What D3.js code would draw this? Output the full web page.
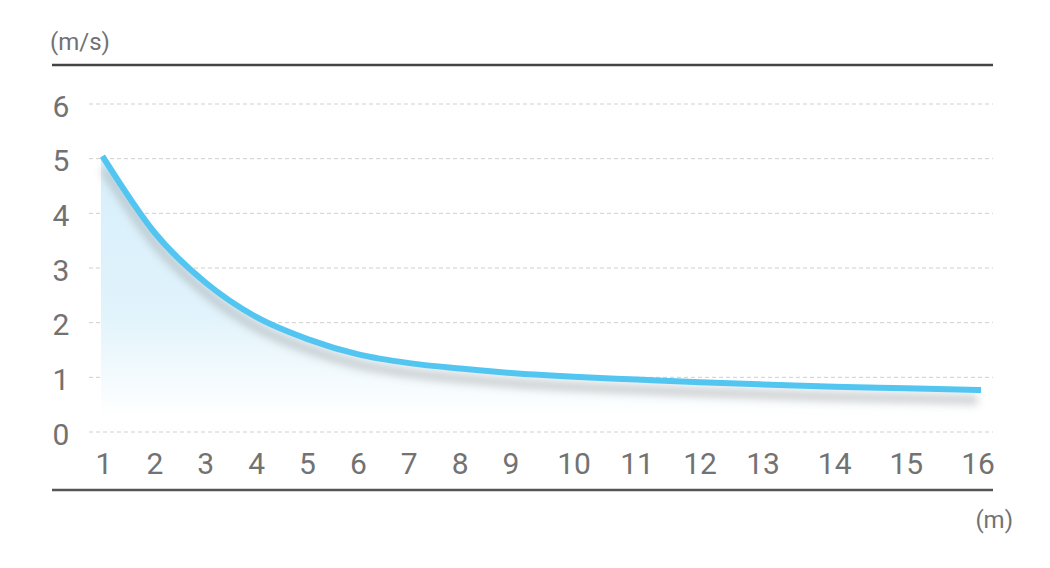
<!DOCTYPE html>
<html lang="en">
  <head>
    <meta charset="utf-8">
    <title>Speed vs distance</title>
    <script src="https://d3js.org/d3.v7.min.js"></script>
    <style type="text/css">
      body { margin: 0; background: #fff; }
      text { font-family: Roboto, "Liberation Sans", sans-serif; fill: #727272; }
    </style>
  </head>
  <body>
    <div id="chart"></div>
    <script type="text/javascript">
      // distance (m) and speed (m/s)
      var distance = [1, 2, 3, 4, 5, 6, 7, 8, 9, 10, 11, 12, 13, 14, 15, 16];
      var speed = [5, 3.64, 2.73, 2.1, 1.7, 1.42, 1.26, 1.16, 1.08, 1.01, 0.96, 0.91, 0.87, 0.83, 0.8, 0.77];
      var yTicks = [0, 1, 2, 3, 4, 5, 6];

      var W = 1050, H = 568;
      var svg = d3.select("#chart").append("svg").attr("width", W).attr("height", H);

      // labels on the x axis are not evenly spaced in the original
      var x = d3.scaleLinear().domain([1, 9, 13, 16]).range([104, 511, 763, 978]);
      var y = d3.scaleLinear().domain([0, 6]).range([432, 104]);

      var defs = svg.append("defs");
      var grad = defs.append("linearGradient").attr("id", "fillGrad")
        .attr("gradientUnits", "userSpaceOnUse")
        .attr("x1", 0).attr("x2", 0).attr("y1", y(5)).attr("y2", y(0) - 15);
      grad.append("stop").attr("offset", "0%").attr("stop-color", "#d6effb");
      grad.append("stop").attr("offset", "60%").attr("stop-color", "#e1f3fb");
      grad.append("stop").attr("offset", "100%").attr("stop-color", "#ffffff");

      var blur = defs.append("filter").attr("id", "shadow")
        .attr("x", "-5%").attr("y", "-20%").attr("width", "110%").attr("height", "140%");
      blur.append("feGaussianBlur").attr("stdDeviation", 4);

      // grid
      svg.append("g").selectAll("line").data(yTicks).join("line")
        .attr("x1", 89).attr("x2", 993)
        .attr("y1", d => y(d)).attr("y2", d => y(d))
        .attr("stroke", "#cfcfcf").attr("stroke-width", 1)
        .attr("stroke-dasharray", "4,3");

      var curve = d3.curveMonotoneX;

      // area under the curve
      var area = d3.area().x((d, i) => x(distance[i])).y0(y(0) - 15).y1(d => y(d))
        .curve(curve);
      svg.append("path").datum(speed)
        .attr("d", area).attr("fill", "url(#fillGrad)")
        .attr("transform", "translate(-3,0)");

      var line = d3.line().x((d, i) => x(distance[i])).y(d => y(d))
        .curve(curve);

      // soft shadow below the line
      svg.append("path").datum(speed)
        .attr("d", line)
        .attr("transform", "translate(0,10)")
        .attr("fill", "none").attr("stroke", "#8f8f8f")
        .attr("stroke-width", 8).attr("opacity", 0.45)
        .attr("filter", "url(#shadow)");

      svg.append("path").datum(speed)
        .attr("d", line)
        .attr("fill", "none").attr("stroke", "#52c6f0")
        .attr("stroke-width", 6).attr("stroke-linecap", "square");

      // y labels
      svg.append("g").selectAll("text").data(yTicks).join("text")
        .attr("x", 61).attr("y", d => y(d) + 2)
        .attr("text-anchor", "middle").attr("dominant-baseline", "central")
        .style("font-size", "30px")
        .text(d => d);

      // x labels
      svg.append("g").selectAll("text").data(distance).join("text")
        .attr("x", d => x(d)).attr("y", 463)
        .attr("text-anchor", "middle").attr("dominant-baseline", "central")
        .style("font-size", "30px")
        .text(d => d);

      // frame lines
      svg.append("line").attr("x1", 52).attr("x2", 993).attr("y1", 65).attr("y2", 65)
        .attr("stroke", "#444").attr("stroke-width", 2.5);
      svg.append("line").attr("x1", 52).attr("x2", 993).attr("y1", 490).attr("y2", 490)
        .attr("stroke", "#555").attr("stroke-width", 2.5);

      // units
      svg.append("text").attr("x", 50).attr("y", 50).style("font-size", "24px").text("(m/s)");
      svg.append("text").attr("x", 1013).attr("y", 528).attr("text-anchor", "end")
        .style("font-size", "24px").text("(m)");
    </script>
  </body>
</html>
